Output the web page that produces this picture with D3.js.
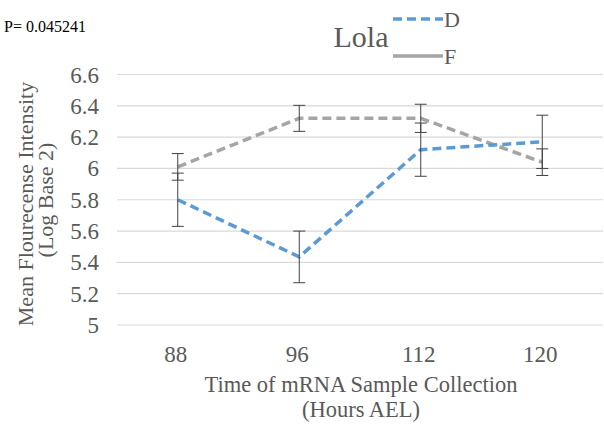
<!DOCTYPE html>
<html>
<head>
<meta charset="utf-8">
<script src="https://cdn.jsdelivr.net/npm/d3@7/dist/d3.min.js"></script>
<style>
  html, body { margin: 0; padding: 0; background: #fff; }
  svg { display: block; }
</style>
</head>
<body>
<svg id="chart" width="604" height="433"></svg>
<script>
// Sample collection times (hours AEL)
const categories = ["88", "96", "112", "120"];
// Mean fluorescence intensity (log base 2) per series
const seriesD = [5.80, 5.435, 6.12, 6.17];
const seriesF = [6.01, 6.32, 6.32, 6.04];
// Error bar half-widths
const errD = [0.17, 0.165, 0.17, 0.17];
const errF = [0.085, 0.083, 0.09, 0.085];
const yTicks = [5, 5.2, 5.4, 5.6, 5.8, 6, 6.2, 6.4, 6.6];
const seriesNames = ["D", "F"];

const serif = "'Liberation Serif', 'Times New Roman', Tinos, 'DejaVu Serif', serif";
const svg = d3.select("#chart")
  .attr("font-family", serif)
  .style("font-family", serif);
const textColor = "#595959";
const plotLeft = 117, plotRight = 603, plotTop = 74.5, plotBottom = 325;

const x = d3.scaleBand().domain(categories).range([plotLeft, plotRight]);
const y = d3.scaleLinear().domain([5, 6.6]).range([plotBottom, plotTop]);

// Horizontal gridlines
svg.append("g").selectAll("line").data(yTicks).join("line")
  .attr("x1", plotLeft).attr("x2", plotRight)
  .attr("y1", d => y(d)).attr("y2", d => y(d))
  .attr("stroke", "#d9d9d9").attr("stroke-width", 1.2);

// Y tick labels
svg.append("g").selectAll("text").data(yTicks).join("text")
  .attr("x", 99).attr("y", d => y(d) + 8)
  .attr("text-anchor", "end").attr("font-size", 23).attr("fill", textColor)
  .text(d => d3.format("")(d));

const cx = d => x(d) + x.bandwidth() / 2;

// X tick labels
svg.append("g").selectAll("text").data(categories).join("text")
  .attr("x", d => cx(d) - 2).attr("y", 362)
  .attr("text-anchor", "middle").attr("font-size", 23).attr("fill", textColor)
  .text(d => d);

const line = d3.line().x((d, i) => cx(categories[i])).y(d => y(d));

// Series lines
svg.append("path").datum(seriesF)
  .attr("d", line).attr("fill", "none")
  .attr("stroke", "#a5a5a5").attr("stroke-width", 3.5)
  .attr("stroke-dasharray", "9,5");
svg.append("path").datum(seriesD)
  .attr("d", line).attr("fill", "none")
  .attr("stroke", "#5b9bd5").attr("stroke-width", 3.5)
  .attr("stroke-dasharray", "9,5");

// Error bars
function errorBars(vals, errs) {
  const g = svg.append("g").attr("stroke", "#404040").attr("stroke-width", 1);
  vals.forEach((v, i) => {
    const xc = cx(categories[i]);
    const y1 = y(v + errs[i]), y2 = y(v - errs[i]);
    g.append("line").attr("x1", xc).attr("x2", xc).attr("y1", y1).attr("y2", y2);
    g.append("line").attr("x1", xc - 6).attr("x2", xc + 6).attr("y1", y1).attr("y2", y1);
    g.append("line").attr("x1", xc - 6).attr("x2", xc + 6).attr("y1", y2).attr("y2", y2);
  });
}
errorBars(seriesF, errF);
errorBars(seriesD, errD);

// Title and annotation
svg.append("text").attr("x", 361).attr("y", 47).attr("text-anchor", "middle")
  .attr("font-size", 30).attr("fill", textColor).text("Lola");
svg.append("text").attr("x", 4).attr("y", 32).attr("font-size", 16)
  .attr("fill", "#000").text("P= 0.045241");

// Legend
const legend = svg.append("g");
legend.append("line").attr("x1", 393).attr("x2", 443).attr("y1", 19).attr("y2", 19)
  .attr("stroke", "#5b9bd5").attr("stroke-width", 3.5).attr("stroke-dasharray", "9,5");
legend.append("line").attr("x1", 393).attr("x2", 443).attr("y1", 56).attr("y2", 56)
  .attr("stroke", "#a5a5a5").attr("stroke-width", 3.5);
legend.selectAll("text").data(seriesNames).join("text")
  .attr("x", 444).attr("y", (d, i) => 27 + i * 37)
  .attr("font-size", 22).attr("fill", textColor).text(d => d);

// Axis titles
svg.append("text").attr("text-anchor", "middle").attr("font-size", 22).attr("fill", textColor)
  .attr("transform", "translate(33,204) rotate(-90)")
  .text("Mean Flourecense Intensity");
svg.append("text").attr("text-anchor", "middle").attr("font-size", 22).attr("fill", textColor)
  .attr("transform", "translate(53,200) rotate(-90)")
  .text("(Log Base 2)");
svg.append("text").attr("x", 361).attr("y", 392).attr("text-anchor", "middle")
  .attr("font-size", 22.5).attr("fill", textColor).text("Time of mRNA Sample Collection");
svg.append("text").attr("x", 361).attr("y", 417).attr("text-anchor", "middle")
  .attr("font-size", 22.5).attr("fill", textColor).text("(Hours AEL)");
</script>
</body>
</html>
